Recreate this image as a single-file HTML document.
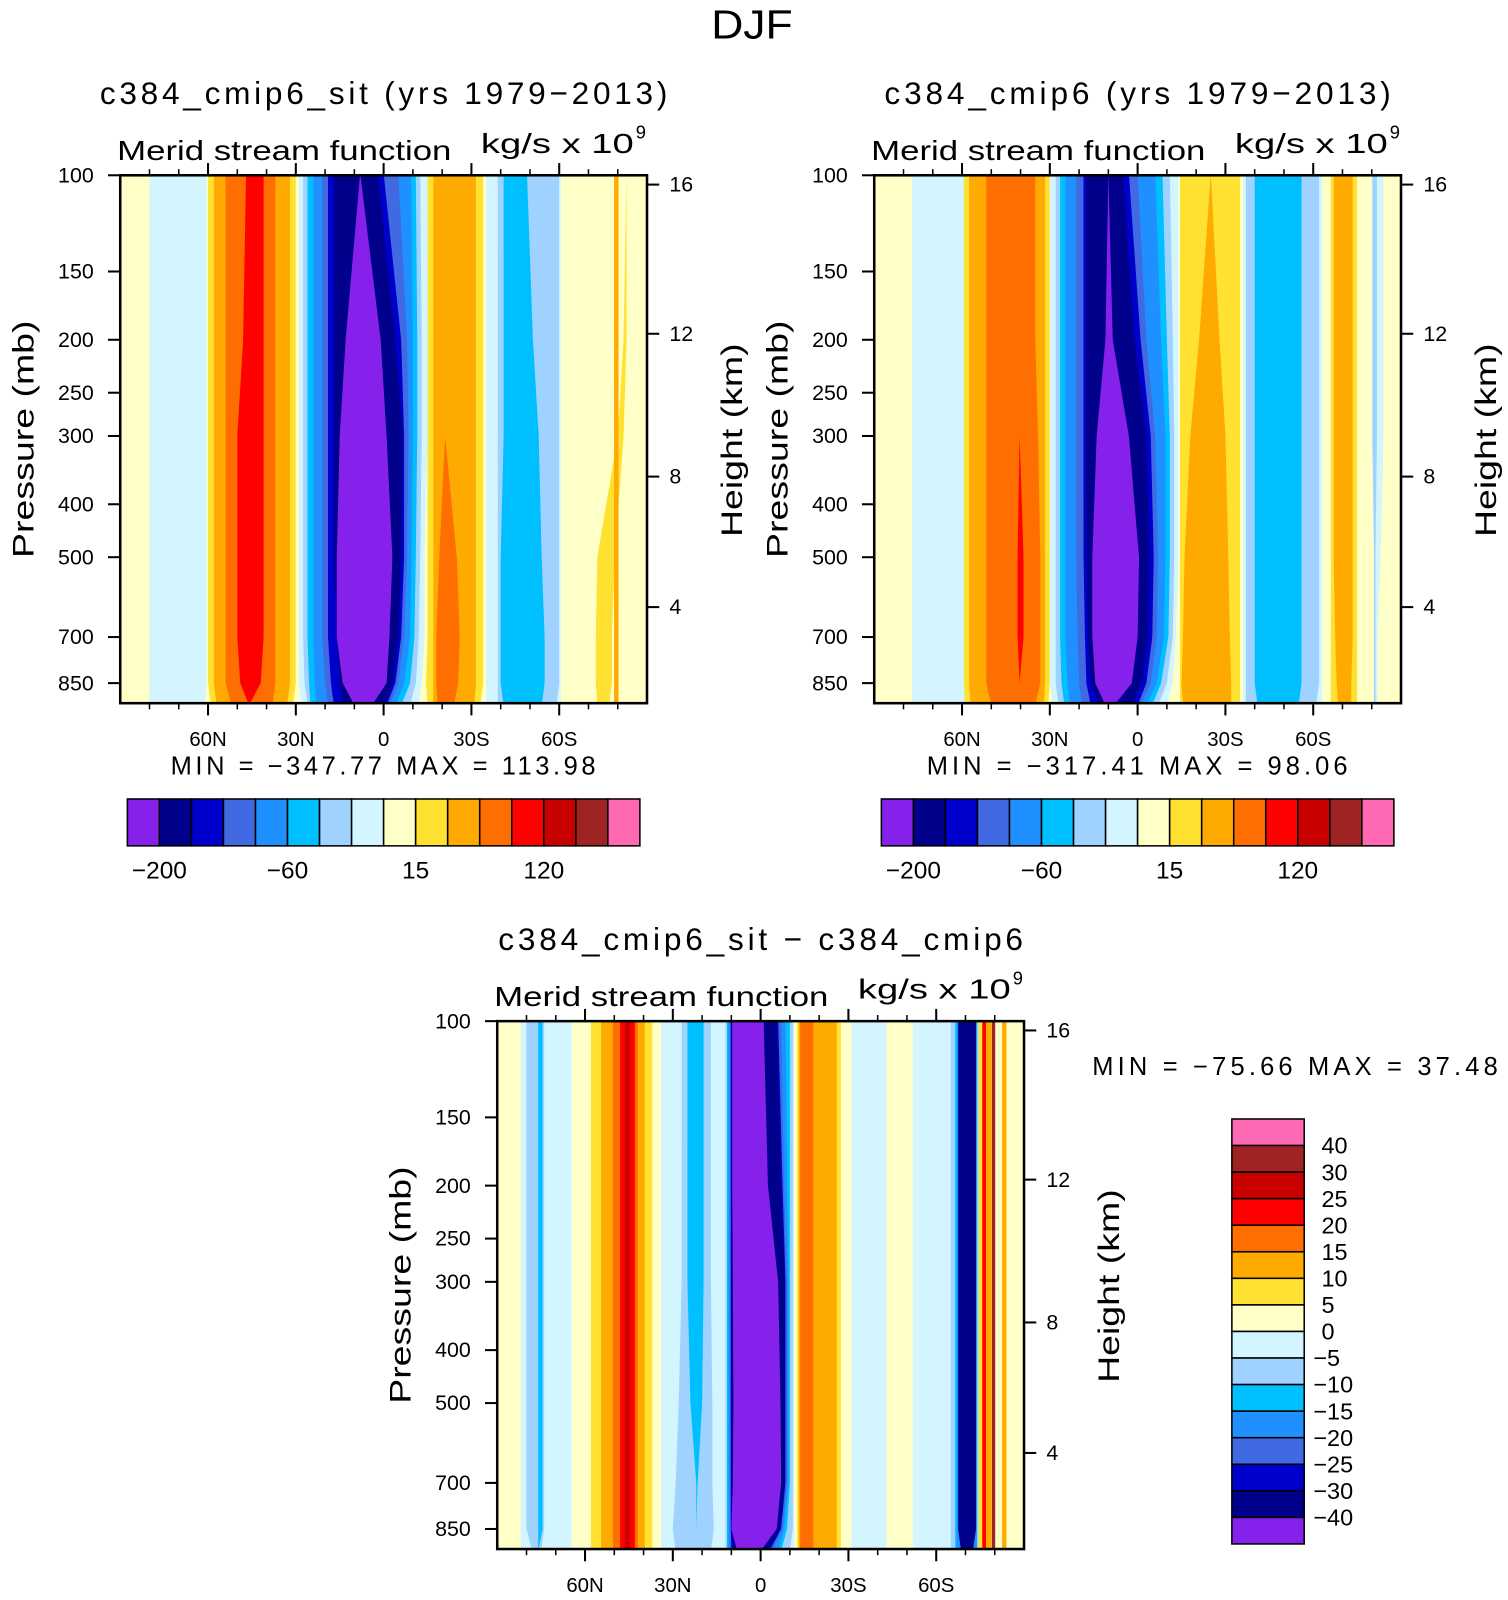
<!DOCTYPE html>
<html><head><meta charset="utf-8">
<style>html,body{margin:0;padding:0;background:#fff;}svg{display:block;}
text{font-family:"Liberation Sans",sans-serif;fill:#000;}</style></head>
<body>
<svg id="fig" width="1508" height="1600" viewBox="0 0 1480 1570" preserveAspectRatio="none" xmlns="http://www.w3.org/2000/svg">
<text x="738" y="38" font-size="40" text-anchor="middle" textLength="80" lengthAdjust="spacingAndGlyphs">DJF</text>
</svg>
<script>
const PALETTE=["#8521ea","#00008b","#0000cd","#4169e1","#1e90ff","#00bfff","#a0d2ff","#d2f5ff","#ffffc8","#ffe132","#ffaa00","#ff6e00","#ff0000","#c80000","#a02323","#ff69b4"];
const PLEV=[100,200,300,500,700,850,925];
const PTICKS=[100,150,200,250,300,400,500,700,850];
const HTICKS=[16,12,8,4];
const HTICK_P=[104,195,356,617];
const LAT_MAJOR=[60,30,0,-30,-60];
const LAT_MAJOR_LABELS=["60N","30N","0","30S","60S"];
const LAT_MINOR=[80,70,50,40,20,10,-10,-20,-40,-50,-70,-80];
const LEVELS_MAIN_LABELS=["−200","−60","15","120"];
const LEVELS_MAIN_LABEL_IDX=[1,5,9,13];
const LEVELS_DIFF=["40","30","25","20","15","10","5","0","−5","−10","−15","−20","−25","−30","−40"];
function R(c,L,Rt){return {c:c,L:L,R:Rt};}
const p1Regions=[
R(7,[80,80,80,80,80,80,80],[60.5,60.5,60.5,60.5,60.5,60.5,61]),
R(9,[60,60,60,60,60,60,59],[30,30,30,30,30,30,31]),
R(10,[58,58,58,58,58,58,57],[32,32,32,32,32,32,33]),
R(11,[54,54,54,54,54,54,52],[37,37,37,37,37,37,38]),
R(12,[47,48,50,50,50,49,46],[41,41,41,41,41,42,46]),
R(7,[29,29,29,29,29,29,28],[-15,-15,-15,-14,-14,-13,-12]),
R(6,[27.5,27.5,27.5,27.5,27.5,27,26],[-12.5,-13,-13,-12.5,-12,-11,-9]),
R(5,[26,26,26,26,26,25.5,25],[-11,-11.5,-11.5,-11,-10.5,-9,-6]),
R(4,[24,24,24,24,24,23.5,23],[-9.4,-10,-10,-9.5,-9,-7,-4]),
R(3,[21,21,21,21,21,20,19],[-5,-8,-8.5,-8,-7,-5,-2]),
R(2,[19,19,19,19,19,18,17],[0,-6,-7,-7,-6,-4,-1]),
R(1,[17,17,17,17,16,15,14],[2,-4,-6.5,-6,-5,-3,0]),
R(0,[8,13,15,16,16,14,10],[8,1,-1,-3,-2,-1,4]),
R(9,[-15,-15,-15,-15,-15,-14.5,-15],[-34,-34,-34,-34,-34,-34,-33]),
R(10,[-17,-17,-17,-17,-17,-17,-17],[-31.5,-31.5,-31.5,-31.5,-31.5,-31.5,-31]),
R(11,[-21,-21,-21,-19,-18,-18,-18.5],[-21,-21,-21,-25,-26,-25.5,-24]),
R(7,[-35,-35,-35,-35,-35,-35,-35],[-60.5,-60.5,-60.5,-60.5,-60.5,-60.5,-60.5]),
R(6,[-39,-39,-39,-39,-39,-39,-39],[-60,-60,-60,-60,-60,-60,-59]),
R(5,[-41,-41,-41,-40,-40,-40,-41],[-49,-51,-53,-54,-55,-55,-54]),
R(9,[-83,-82,-80,-73,-72.5,-72.5,-73],[-83,-83,-82,-79,-78,-78,-77]),
R(10,[-79,-79,-79,-79,-79,-79,-79],[-80,-80,-80,-80,-80,-80,-80])
];
const p2Regions=[
R(7,[77,77,77,77,77,77,77],[59,59,59,59,59,59,59]),
R(9,[59.4,59.4,59.4,59.4,59.4,59.4,59],[30,30,30,30,30,30,30.5]),
R(10,[57.6,57.6,57.6,57.6,57.6,57.6,57],[31.6,31.6,31.6,31.6,31.6,31.6,32]),
R(11,[51.7,51.7,51.7,51.7,51.7,51.7,50],[35,35,34,33.3,33.3,33.3,35]),
R(12,[40.3,40.3,40.3,41,41,40.3,40.3],[40.3,40.3,40.3,39,39,40.3,40.3]),
R(7,[30,30,30,30,30,30,29],[-14,-14,-14,-14,-13,-12,-10]),
R(6,[28,28,28,28,28,28,27],[-11,-12,-12.5,-12.5,-12,-10,-7]),
R(5,[26.5,26.5,26.5,26.5,26.5,26,25],[-8.5,-10,-11,-11,-10.5,-8,-5]),
R(4,[24.7,24.7,24.7,24.7,24.7,24,23],[-6,-8,-9.5,-9.5,-9,-6.5,-3]),
R(3,[21,21,21,21,20.5,20,19],[0,-3,-6,-7,-6.5,-4.5,-1]),
R(2,[18.5,18.5,18.5,18.5,18,17.5,16],[3,-1,-4.5,-5.5,-5,-3,0]),
R(1,[17.7,17.7,17.7,17.5,17,16,13],[5,1,-3,-4,-3.5,-1.5,2]),
R(0,[10,11,14,15.5,15.5,14.5,11],[10,8.5,3,-0.5,0,2,8]),
R(9,[-14.5,-14.5,-14.5,-14.5,-14.5,-14.5,-14.5],[-35,-35,-35,-35,-35,-35,-35]),
R(10,[-25,-21,-18,-16,-15.5,-15,-15.5],[-25,-28,-30,-31,-31.5,-32,-32]),
R(7,[-36,-36,-36,-36,-36,-36,-36],[-63,-63,-63,-63,-63,-63,-63]),
R(6,[-37,-37,-37,-37,-37,-37,-37],[-62,-62,-62,-62,-62,-62,-61]),
R(5,[-40,-40,-40,-40,-40,-40,-41],[-56,-56,-56,-56,-56,-56,-55]),
R(9,[-66,-66,-66,-66,-66,-66,-66],[-75,-75,-75,-75,-75,-75,-75]),
R(10,[-67,-67,-67,-67,-67.5,-68,-68.5],[-73.5,-73.5,-73.5,-73.5,-73.5,-73,-73]),
R(7,[-80,-80,-80,-81,-81,-81,-81],[-84,-84,-84,-83,-82,-82,-82]),
R(6,[-80.5,-80.5,-80.5,-81,-81,-81,-81],[-81.5,-81.5,-81.5,-81,-81,-81,-81])
];
const p3Regions=[
R(7,[82,82,82,82,82,82,82],[64.6,64.6,64.6,64.6,64.6,64.6,64.6]),
R(6,[80,80,80,80,80,80,78],[74,74,74,74,74,74,75]),
R(5,[76,76,76,76,76,76,76],[74.5,74.5,74.5,74.5,74.5,74.5,76]),
R(9,[58,58,58,58,58,58,58],[37,37,37,37,37,37,37]),
R(10,[54.5,54.5,54.5,54.5,54.5,54.5,54.5],[39.6,39.6,39.6,39.6,39.6,39.6,39.6]),
R(11,[50.5,50.5,50.5,50.5,50.5,50.5,50.5],[42,42,42,42,42,42,42]),
R(12,[48,48,48,48,48,48,48],[43,43,43,43,43,43,43]),
R(13,[46,46,46,46,46,46,46],[45,45,45,45,45,45,45]),
R(7,[34,34,34,34,34,34,34],[11.5,11.5,11.5,11.5,11.5,11.5,11.5]),
R(6,[27,27,27,28,29,30,29],[17,17,17,16.5,16.5,16,17]),
R(5,[25,25,25,24,22,22,22],[19.5,19.5,19.5,20,21.5,22,22]),
R(7,[12.5,12.5,12.5,12.5,12.5,12.5,12.5],[-11.5,-11.5,-11.5,-11.5,-11.5,-11.5,-11.5]),
R(6,[12,12,12,12,12,12,12],[-11,-11,-11,-11,-11,-11,-10]),
R(5,[11.5,11.5,11.5,11.5,11.5,11.5,11.5],[-10,-10,-10,-10,-10,-9,-7]),
R(4,[11,11,11,11,11,11,11],[-8.5,-9,-9.5,-9.5,-9.5,-8,-6]),
R(3,[10.5,10.5,10.5,10.5,10.5,10.5,10.5],[-7,-8,-9,-9,-9,-7.5,-4]),
R(2,[10.2,10.2,10.2,10.2,10.2,10.2,10],[-6,-7.5,-8.5,-8.5,-8.5,-7,-3]),
R(1,[10,10,10,10,10,10,9],[-5.5,-7,-8.3,-8.3,-8.3,-6.5,-2]),
R(0,[9.7,9.7,9.5,9.3,9.5,10,8],[-1,-2.5,-6,-6.8,-7,-5.5,0]),
R(9,[-12.5,-12.5,-12.5,-12.5,-12.5,-12.5,-12.5],[-27.4,-27.4,-27.4,-27.4,-27.4,-27.4,-27.4]),
R(10,[-13,-13,-13,-13,-13,-13,-13],[-26,-26,-26,-26,-26,-26,-26]),
R(11,[-13.5,-13.5,-13.5,-13.5,-13.5,-13.5,-13.5],[-18,-18,-18,-18,-18,-18,-18]),
R(7,[-31,-31,-31,-31,-31,-31,-31],[-43,-43,-43,-43,-43,-43,-43]),
R(7,[-52,-52,-52,-52,-52,-52,-52],[-65.6,-65.6,-65.6,-65.6,-65.6,-65.6,-65.6]),
R(6,[-65,-65,-65,-65,-65,-65,-65],[-74.5,-74.5,-74.5,-74.5,-74.5,-74.5,-74.5]),
R(5,[-66.5,-66.5,-66.5,-66.5,-66.5,-66.5,-66.5],[-74,-74,-74,-74,-74,-74,-74]),
R(4,[-67,-67,-67,-67,-67,-67,-67],[-73.8,-73.8,-73.8,-73.8,-73.8,-73.8,-73.8]),
R(1,[-67.5,-67.5,-67.5,-67.5,-67.5,-67.5,-68.5],[-73.6,-73.6,-73.6,-73.6,-73.6,-73.6,-72.5]),
R(9,[-74.5,-74.5,-74.5,-74.5,-74.5,-74.5,-74.5],[-76,-76,-76,-76,-76,-76,-76]),
R(12,[-76,-76,-76,-76,-76,-76,-76],[-77,-77,-77,-77,-77,-77,-77]),
R(10,[-77,-77,-77,-77,-77,-77,-77],[-79,-79,-79,-79,-79,-79,-79]),
R(14,[-79.3,-79.3,-79.3,-79.3,-79.3,-79.3,-79.3],[-79.9,-79.9,-79.9,-79.9,-79.9,-79.9,-79.9]),
R(10,[-82.5,-82.5,-82.5,-82.5,-82.5,-82.5,-82.5],[-84,-84,-84,-84,-84,-84,-84])
];
const NS="http://www.w3.org/2000/svg";
const svg=document.getElementById('fig');
function el(tag,attrs,parent,txt){const e=document.createElementNS(NS,tag);for(const k in attrs)e.setAttribute(k,attrs[k]);if(txt!==undefined)e.textContent=txt;(parent||svg).appendChild(e);return e;}

function panel(id,x0,y0,regions,title,titleLen,minmax,mmx,mmy,mmAnchor,mmLen){
  const W=517,H=518,x1=x0+W,y1=y0+H;
  const xS=lat=>x0+(90-lat)/180*W;
  const yS=p=>y0+Math.log(p/100)/Math.log(9.25)*H;
  const g=el('g',{});
  
  
  const cid=id+'-clip';
  const cp=el('clipPath',{id:cid},g);el('rect',{x:x0,y:y0,width:W,height:H},cp);
  const fld=el('g',{'clip-path':'url(#'+cid+')'},g);
  
  
  const bg=el('rect',{x:x0,y:y0,width:W,height:H,fill:PALETTE[8]},fld);
  
  
  regions.forEach((r,i)=>{
    const pts=[];
    for(let k=0;k<PLEV.length;k++){let y=yS(PLEV[k]);if(k===0)y-=2;if(k===PLEV.length-1)y+=2;pts.push(xS(r.L[k]).toFixed(1)+','+y.toFixed(1));}
    for(let k=PLEV.length-1;k>=0;k--){let y=yS(PLEV[k]);if(k===0)y-=2;if(k===PLEV.length-1)y+=2;pts.push(xS(r.R[k]).toFixed(1)+','+y.toFixed(1));}
    const w=Math.max(...r.L.map((v,k)=>Math.abs(v-r.R[k])));
    const pg=el('polygon',{points:pts.join(' '),fill:PALETTE[r.c],stroke:w<1.5?PALETTE[r.c]:'none','stroke-width':w<1.5?1.5:0},fld);
    
    
  });
  const fr=el('rect',{x:x0,y:y0,width:W,height:H,fill:'none',stroke:'#000','stroke-width':2.5},g);
  
  
  LAT_MAJOR.forEach((lat,i)=>{const x=xS(lat);
    el('line',{x1:x,x2:x,y1:y0,y2:y0-12,stroke:'#000','stroke-width':2},g);
    el('line',{x1:x,x2:x,y1:y1,y2:y1+12,stroke:'#000','stroke-width':2},g);
    const t=el('text',{x:x,y:y1+42,'font-size':20,'text-anchor':'middle'},g,LAT_MAJOR_LABELS[i]);
    
    
  });
  LAT_MINOR.forEach(lat=>{const x=xS(lat);
    el('line',{x1:x,x2:x,y1:y0,y2:y0-6,stroke:'#000','stroke-width':1.5},g);
    el('line',{x1:x,x2:x,y1:y1,y2:y1+6,stroke:'#000','stroke-width':1.5},g);});
  PTICKS.forEach(p=>{const y=yS(p);
    el('line',{x1:x0,x2:x0-12,y1:y,y2:y,stroke:'#000','stroke-width':2},g);
    const t=el('text',{x:x0-26,y:y+7,'font-size':21,'text-anchor':'end'},g,String(p));
    
    
  });
  HTICKS.forEach((h,i)=>{const y=yS(HTICK_P[i]);
    el('line',{x1:x1,x2:x1+12,y1:y,y2:y,stroke:'#000','stroke-width':2},g);
    const t=el('text',{x:x1+22,y:y+7,'font-size':21},g,String(h));
    
    
  });
  const yt=el('text',{x:0,y:0,'font-size':29,'text-anchor':'middle',transform:`translate(${x0-85},${y0+259}) rotate(-90)`,textLength:233,lengthAdjust:'spacingAndGlyphs'},g,'Pressure  (mb)');
  
  
  const ht=el('text',{x:0,y:0,'font-size':29,'text-anchor':'middle',transform:`translate(${x1+93},${y0+260}) rotate(-90)`,textLength:190,lengthAdjust:'spacingAndGlyphs'},g,'Height  (km)');
  
  
  const tt=el('text',{x:x0+W/2,y:y0-70,'font-size':31,'text-anchor':'middle',textLength:titleLen,lengthAdjust:'spacing'},g,title);
  
  
  const st=el('text',{x:x0-3,y:y0-15,'font-size':27,textLength:328,lengthAdjust:'spacingAndGlyphs'},g,'Merid  stream  function');
  
  
  const un=el('text',{x:x0+354,y:y0-22,'font-size':27,textLength:150,lengthAdjust:'spacingAndGlyphs'},g,'kg/s  x  10');
  
  
  el('text',{x:x0+506,y:y0-36,'font-size':18},g,'9');
  const mm=el('text',{x:mmx,y:mmy,'font-size':25,'text-anchor':mmAnchor,textLength:mmLen,lengthAdjust:'spacing'},g,minmax);
  
  
  return g;
}
function hbar(x0,y0){
  const g=el('g',{});
  
  
  const bw=503/16;
  PALETTE.forEach((c,i)=>{const r=el('rect',{x:x0+i*bw,y:y0,width:bw,height:46,fill:c,stroke:'#000','stroke-width':1.5},g);
    
    });
  LEVELS_MAIN_LABELS.forEach((s,i)=>{const t=el('text',{x:x0+LEVELS_MAIN_LABEL_IDX[i]*bw,y:y0+78,'font-size':24,'text-anchor':'middle'},g,s);
    
    });
}
panel('control-sit',118,172,p1Regions,'c384_cmip6_sit  (yrs  1979−2013)',557,'MIN  =  −347.77    MAX  =  113.98',376,760,'middle',417);
panel('control',858,172,p2Regions,'c384_cmip6  (yrs  1979−2013)',497,'MIN  =  −317.41    MAX  =   98.06',1116,760,'middle',413);
hbar(125,784);hbar(865,784);
panel('difference',488,1002,p3Regions,'c384_cmip6_sit  −  c384_cmip6',515,'MIN  =  −75.66    MAX  =   37.48',1072,1055,'start',398);
(function(){
  const g=el('g',{});
  
  
  const x0=1209,y0=1098,bh=417/16;
  PALETTE.slice().reverse().forEach((c,i)=>{const r=el('rect',{x:x0,y:y0+i*bh,width:71,height:bh,fill:c,stroke:'#000','stroke-width':1.5},g);
    
    });
  LEVELS_DIFF.forEach((s,i)=>{const neg=s.charAt(0)==='−';
    const t=el('text',{x:neg?1289:1297,y:y0+(i+1)*bh+8,'font-size':23},g,s);
    
    });
})();
</script>
</body></html>
